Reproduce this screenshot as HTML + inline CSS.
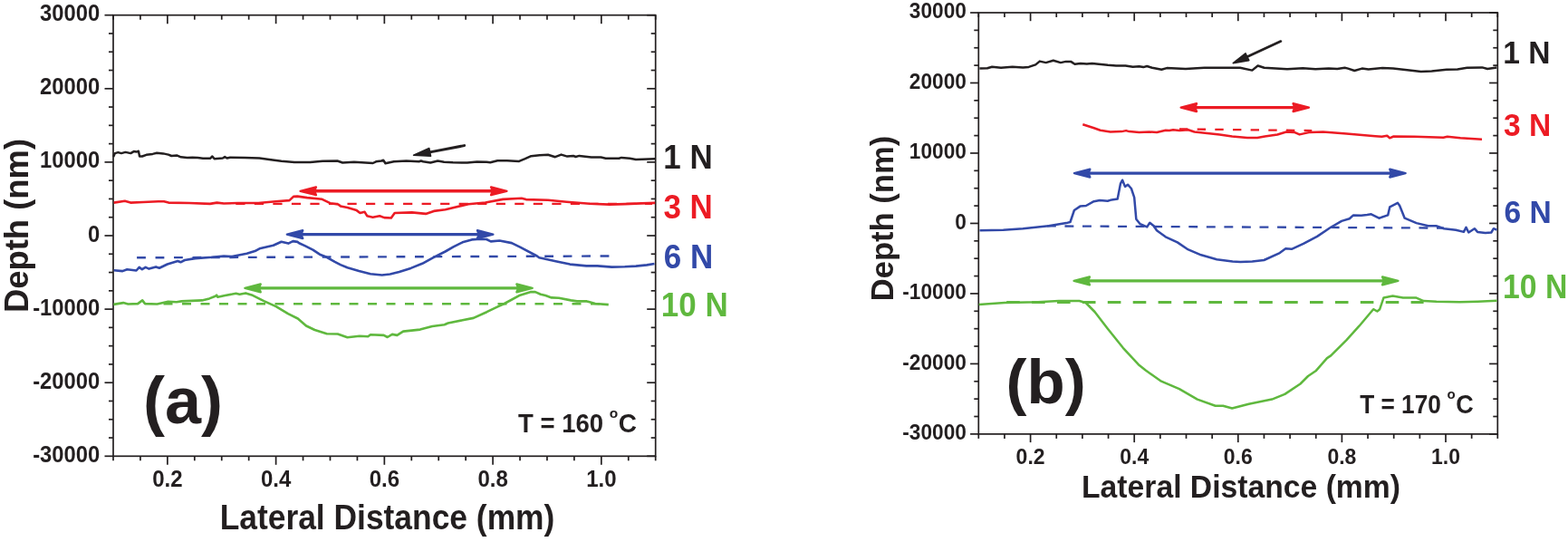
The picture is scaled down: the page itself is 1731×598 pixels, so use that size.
<!DOCTYPE html><html><head><meta charset="utf-8"><style>html,body{margin:0;padding:0;background:#fff;}svg{display:block;}text{font-family:'Liberation Sans', Arial, Helvetica, sans-serif;font-weight:bold;}</style></head><body>
<svg width="1731" height="598" viewBox="0 0 1731 598">
<rect width="1731" height="598" fill="#fff"/>
<line x1="115.50" y1="503.30" x2="125.00" y2="503.30" stroke="#231f20" stroke-width="1.7"/>
<line x1="723.70" y1="503.30" x2="714.20" y2="503.30" stroke="#231f20" stroke-width="1.7"/>
<line x1="120.00" y1="483.02" x2="125.00" y2="483.02" stroke="#231f20" stroke-width="1.7"/>
<line x1="723.70" y1="483.02" x2="718.70" y2="483.02" stroke="#231f20" stroke-width="1.7"/>
<line x1="120.00" y1="462.75" x2="125.00" y2="462.75" stroke="#231f20" stroke-width="1.7"/>
<line x1="723.70" y1="462.75" x2="718.70" y2="462.75" stroke="#231f20" stroke-width="1.7"/>
<line x1="120.00" y1="442.47" x2="125.00" y2="442.47" stroke="#231f20" stroke-width="1.7"/>
<line x1="723.70" y1="442.47" x2="718.70" y2="442.47" stroke="#231f20" stroke-width="1.7"/>
<line x1="115.50" y1="422.20" x2="125.00" y2="422.20" stroke="#231f20" stroke-width="1.7"/>
<line x1="723.70" y1="422.20" x2="714.20" y2="422.20" stroke="#231f20" stroke-width="1.7"/>
<line x1="120.00" y1="401.93" x2="125.00" y2="401.93" stroke="#231f20" stroke-width="1.7"/>
<line x1="723.70" y1="401.93" x2="718.70" y2="401.93" stroke="#231f20" stroke-width="1.7"/>
<line x1="120.00" y1="381.65" x2="125.00" y2="381.65" stroke="#231f20" stroke-width="1.7"/>
<line x1="723.70" y1="381.65" x2="718.70" y2="381.65" stroke="#231f20" stroke-width="1.7"/>
<line x1="120.00" y1="361.38" x2="125.00" y2="361.38" stroke="#231f20" stroke-width="1.7"/>
<line x1="723.70" y1="361.38" x2="718.70" y2="361.38" stroke="#231f20" stroke-width="1.7"/>
<line x1="115.50" y1="341.10" x2="125.00" y2="341.10" stroke="#231f20" stroke-width="1.7"/>
<line x1="723.70" y1="341.10" x2="714.20" y2="341.10" stroke="#231f20" stroke-width="1.7"/>
<line x1="120.00" y1="320.82" x2="125.00" y2="320.82" stroke="#231f20" stroke-width="1.7"/>
<line x1="723.70" y1="320.82" x2="718.70" y2="320.82" stroke="#231f20" stroke-width="1.7"/>
<line x1="120.00" y1="300.55" x2="125.00" y2="300.55" stroke="#231f20" stroke-width="1.7"/>
<line x1="723.70" y1="300.55" x2="718.70" y2="300.55" stroke="#231f20" stroke-width="1.7"/>
<line x1="120.00" y1="280.27" x2="125.00" y2="280.27" stroke="#231f20" stroke-width="1.7"/>
<line x1="723.70" y1="280.27" x2="718.70" y2="280.27" stroke="#231f20" stroke-width="1.7"/>
<line x1="115.50" y1="260.00" x2="125.00" y2="260.00" stroke="#231f20" stroke-width="1.7"/>
<line x1="723.70" y1="260.00" x2="714.20" y2="260.00" stroke="#231f20" stroke-width="1.7"/>
<line x1="120.00" y1="239.72" x2="125.00" y2="239.72" stroke="#231f20" stroke-width="1.7"/>
<line x1="723.70" y1="239.72" x2="718.70" y2="239.72" stroke="#231f20" stroke-width="1.7"/>
<line x1="120.00" y1="219.45" x2="125.00" y2="219.45" stroke="#231f20" stroke-width="1.7"/>
<line x1="723.70" y1="219.45" x2="718.70" y2="219.45" stroke="#231f20" stroke-width="1.7"/>
<line x1="120.00" y1="199.18" x2="125.00" y2="199.18" stroke="#231f20" stroke-width="1.7"/>
<line x1="723.70" y1="199.18" x2="718.70" y2="199.18" stroke="#231f20" stroke-width="1.7"/>
<line x1="115.50" y1="178.90" x2="125.00" y2="178.90" stroke="#231f20" stroke-width="1.7"/>
<line x1="723.70" y1="178.90" x2="714.20" y2="178.90" stroke="#231f20" stroke-width="1.7"/>
<line x1="120.00" y1="158.62" x2="125.00" y2="158.62" stroke="#231f20" stroke-width="1.7"/>
<line x1="723.70" y1="158.62" x2="718.70" y2="158.62" stroke="#231f20" stroke-width="1.7"/>
<line x1="120.00" y1="138.35" x2="125.00" y2="138.35" stroke="#231f20" stroke-width="1.7"/>
<line x1="723.70" y1="138.35" x2="718.70" y2="138.35" stroke="#231f20" stroke-width="1.7"/>
<line x1="120.00" y1="118.07" x2="125.00" y2="118.07" stroke="#231f20" stroke-width="1.7"/>
<line x1="723.70" y1="118.07" x2="718.70" y2="118.07" stroke="#231f20" stroke-width="1.7"/>
<line x1="115.50" y1="97.80" x2="125.00" y2="97.80" stroke="#231f20" stroke-width="1.7"/>
<line x1="723.70" y1="97.80" x2="714.20" y2="97.80" stroke="#231f20" stroke-width="1.7"/>
<line x1="120.00" y1="77.53" x2="125.00" y2="77.53" stroke="#231f20" stroke-width="1.7"/>
<line x1="723.70" y1="77.53" x2="718.70" y2="77.53" stroke="#231f20" stroke-width="1.7"/>
<line x1="120.00" y1="57.25" x2="125.00" y2="57.25" stroke="#231f20" stroke-width="1.7"/>
<line x1="723.70" y1="57.25" x2="718.70" y2="57.25" stroke="#231f20" stroke-width="1.7"/>
<line x1="120.00" y1="36.97" x2="125.00" y2="36.97" stroke="#231f20" stroke-width="1.7"/>
<line x1="723.70" y1="36.97" x2="718.70" y2="36.97" stroke="#231f20" stroke-width="1.7"/>
<line x1="115.50" y1="16.70" x2="125.00" y2="16.70" stroke="#231f20" stroke-width="1.7"/>
<line x1="723.70" y1="16.70" x2="714.20" y2="16.70" stroke="#231f20" stroke-width="1.7"/>
<line x1="125.00" y1="503.30" x2="125.00" y2="508.30" stroke="#231f20" stroke-width="1.7"/>
<line x1="125.00" y1="16.70" x2="125.00" y2="21.70" stroke="#231f20" stroke-width="1.7"/>
<line x1="154.94" y1="503.30" x2="154.94" y2="508.30" stroke="#231f20" stroke-width="1.7"/>
<line x1="154.94" y1="16.70" x2="154.94" y2="21.70" stroke="#231f20" stroke-width="1.7"/>
<line x1="184.87" y1="503.30" x2="184.87" y2="512.80" stroke="#231f20" stroke-width="1.7"/>
<line x1="184.87" y1="16.70" x2="184.87" y2="26.20" stroke="#231f20" stroke-width="1.7"/>
<line x1="214.81" y1="503.30" x2="214.81" y2="508.30" stroke="#231f20" stroke-width="1.7"/>
<line x1="214.81" y1="16.70" x2="214.81" y2="21.70" stroke="#231f20" stroke-width="1.7"/>
<line x1="244.74" y1="503.30" x2="244.74" y2="508.30" stroke="#231f20" stroke-width="1.7"/>
<line x1="244.74" y1="16.70" x2="244.74" y2="21.70" stroke="#231f20" stroke-width="1.7"/>
<line x1="274.67" y1="503.30" x2="274.67" y2="508.30" stroke="#231f20" stroke-width="1.7"/>
<line x1="274.67" y1="16.70" x2="274.67" y2="21.70" stroke="#231f20" stroke-width="1.7"/>
<line x1="304.61" y1="503.30" x2="304.61" y2="512.80" stroke="#231f20" stroke-width="1.7"/>
<line x1="304.61" y1="16.70" x2="304.61" y2="26.20" stroke="#231f20" stroke-width="1.7"/>
<line x1="334.55" y1="503.30" x2="334.55" y2="508.30" stroke="#231f20" stroke-width="1.7"/>
<line x1="334.55" y1="16.70" x2="334.55" y2="21.70" stroke="#231f20" stroke-width="1.7"/>
<line x1="364.48" y1="503.30" x2="364.48" y2="508.30" stroke="#231f20" stroke-width="1.7"/>
<line x1="364.48" y1="16.70" x2="364.48" y2="21.70" stroke="#231f20" stroke-width="1.7"/>
<line x1="394.42" y1="503.30" x2="394.42" y2="508.30" stroke="#231f20" stroke-width="1.7"/>
<line x1="394.42" y1="16.70" x2="394.42" y2="21.70" stroke="#231f20" stroke-width="1.7"/>
<line x1="424.35" y1="503.30" x2="424.35" y2="512.80" stroke="#231f20" stroke-width="1.7"/>
<line x1="424.35" y1="16.70" x2="424.35" y2="26.20" stroke="#231f20" stroke-width="1.7"/>
<line x1="454.29" y1="503.30" x2="454.29" y2="508.30" stroke="#231f20" stroke-width="1.7"/>
<line x1="454.29" y1="16.70" x2="454.29" y2="21.70" stroke="#231f20" stroke-width="1.7"/>
<line x1="484.22" y1="503.30" x2="484.22" y2="508.30" stroke="#231f20" stroke-width="1.7"/>
<line x1="484.22" y1="16.70" x2="484.22" y2="21.70" stroke="#231f20" stroke-width="1.7"/>
<line x1="514.15" y1="503.30" x2="514.15" y2="508.30" stroke="#231f20" stroke-width="1.7"/>
<line x1="514.15" y1="16.70" x2="514.15" y2="21.70" stroke="#231f20" stroke-width="1.7"/>
<line x1="544.09" y1="503.30" x2="544.09" y2="512.80" stroke="#231f20" stroke-width="1.7"/>
<line x1="544.09" y1="16.70" x2="544.09" y2="26.20" stroke="#231f20" stroke-width="1.7"/>
<line x1="574.03" y1="503.30" x2="574.03" y2="508.30" stroke="#231f20" stroke-width="1.7"/>
<line x1="574.03" y1="16.70" x2="574.03" y2="21.70" stroke="#231f20" stroke-width="1.7"/>
<line x1="603.96" y1="503.30" x2="603.96" y2="508.30" stroke="#231f20" stroke-width="1.7"/>
<line x1="603.96" y1="16.70" x2="603.96" y2="21.70" stroke="#231f20" stroke-width="1.7"/>
<line x1="633.90" y1="503.30" x2="633.90" y2="508.30" stroke="#231f20" stroke-width="1.7"/>
<line x1="633.90" y1="16.70" x2="633.90" y2="21.70" stroke="#231f20" stroke-width="1.7"/>
<line x1="663.83" y1="503.30" x2="663.83" y2="512.80" stroke="#231f20" stroke-width="1.7"/>
<line x1="663.83" y1="16.70" x2="663.83" y2="26.20" stroke="#231f20" stroke-width="1.7"/>
<line x1="693.77" y1="503.30" x2="693.77" y2="508.30" stroke="#231f20" stroke-width="1.7"/>
<line x1="693.77" y1="16.70" x2="693.77" y2="21.70" stroke="#231f20" stroke-width="1.7"/>
<line x1="723.70" y1="503.30" x2="723.70" y2="508.30" stroke="#231f20" stroke-width="1.7"/>
<line x1="723.70" y1="16.70" x2="723.70" y2="21.70" stroke="#231f20" stroke-width="1.7"/>
<rect x="125.00" y="16.70" width="598.70" height="486.60" fill="none" stroke="#231f20" stroke-width="1.7"/>
<text transform="translate(110.30,509.85) scale(1,1.067)" x="0" y="0" font-size="23.8" fill="#231f20" text-anchor="end">-30000</text>
<text transform="translate(110.30,428.75) scale(1,1.067)" x="0" y="0" font-size="23.8" fill="#231f20" text-anchor="end">-20000</text>
<text transform="translate(110.30,347.65) scale(1,1.067)" x="0" y="0" font-size="23.8" fill="#231f20" text-anchor="end">-10000</text>
<text transform="translate(110.30,266.55) scale(1,1.067)" x="0" y="0" font-size="23.8" fill="#231f20" text-anchor="end">0</text>
<text transform="translate(110.30,185.45) scale(1,1.067)" x="0" y="0" font-size="23.8" fill="#231f20" text-anchor="end">10000</text>
<text transform="translate(110.30,104.35) scale(1,1.067)" x="0" y="0" font-size="23.8" fill="#231f20" text-anchor="end">20000</text>
<text transform="translate(110.30,23.25) scale(1,1.067)" x="0" y="0" font-size="23.8" fill="#231f20" text-anchor="end">30000</text>
<text transform="translate(184.87,536.80) scale(1,1.058)" x="0" y="0" font-size="24" fill="#231f20" text-anchor="middle">0.2</text>
<text transform="translate(304.61,536.80) scale(1,1.058)" x="0" y="0" font-size="24" fill="#231f20" text-anchor="middle">0.4</text>
<text transform="translate(424.35,536.80) scale(1,1.058)" x="0" y="0" font-size="24" fill="#231f20" text-anchor="middle">0.6</text>
<text transform="translate(544.09,536.80) scale(1,1.058)" x="0" y="0" font-size="24" fill="#231f20" text-anchor="middle">0.8</text>
<text transform="translate(663.83,536.80) scale(1,1.058)" x="0" y="0" font-size="24" fill="#231f20" text-anchor="middle">1.0</text>
<polyline points="125.2,173.1 126.9,169.1 130.4,168.1 133.9,169.1 138.5,167.9 144.3,169.1 147.7,167.1 150.6,167.6 152.9,166.8 154.1,172.5 157.0,172.5 161.6,170.8 168.5,169.9 173.1,168.8 180.1,169.4 185.9,170.6 189.3,172.0 195.1,171.4 199.7,173.3 206.7,174.0 212.4,173.7 218.2,174.0 224.0,174.8 232.0,174.8 234.4,172.5 236.7,175.2 245.9,174.5 248.2,173.1 250.6,174.5 254.0,173.7 270.2,173.9 286.4,174.5 299.1,176.3 310.6,177.7 325.0,178.9 342.4,178.9 356.2,177.7 372.4,177.5 378.2,179.5 390.9,178.7 411.7,180.0 415.1,178.3 420.9,177.5 423.2,176.8 425.5,180.3 434.8,178.3 448.6,177.5 462.5,178.3 464.8,177.5 467.1,178.3 475.2,179.5 483.3,177.5 490.2,178.7 500.0,179.2 515.9,179.6 526.6,178.5 537.2,178.8 541.2,179.2 549.2,177.2 559.8,177.2 573.1,177.9 579.7,175.2 586.4,172.2 595.7,171.2 605.0,170.8 612.9,173.2 619.6,170.6 626.2,172.6 632.9,171.9 635.5,173.0 639.5,171.9 652.8,173.5 663.4,173.5 668.7,174.8 683.4,174.8 686.0,173.9 695.3,174.8 702.0,176.1 723.2,175.2" fill="none" stroke="#231f20" stroke-width="2.5" stroke-linejoin="round" stroke-linecap="butt"/>
<line x1="512.60" y1="160.60" x2="472.00" y2="168.40" stroke="#231f20" stroke-width="3.0" stroke-linecap="round"/>
<path d="M456.6,171.3 L473.8,163.6 L475.5,172.2 Z" fill="#231f20" stroke="#231f20" stroke-width="1.6" stroke-linejoin="round"/>
<polyline points="125.7,223.6 137.8,221.7 144.1,223.6 158.1,223.0 174.7,222.3 181.0,222.3 186.1,223.6 209.0,224.0 231.8,224.9 239.5,223.6 247.1,224.5 262.3,224.0 285.2,224.0 304.3,222.3 319.5,221.1 324.0,216.9 328.4,216.6 339.1,218.1 355.6,219.8 364.5,224.2 373.4,225.5 375.9,227.4 383.5,229.1 393.7,232.1 397.5,235.0 402.6,233.8 405.2,238.2 411.5,239.7 419.1,238.2 424.2,240.1 431.8,240.5 435.7,235.0 454.7,234.4 470.0,235.9 478.9,232.9 491.6,231.2 517.0,225.2 535.8,223.5 555.2,219.9 575.8,218.7 580.7,220.1 604.9,220.7 625.5,222.7 651.0,224.7 672.9,225.6 689.8,225.1 708.0,224.4 723.2,223.9" fill="none" stroke="#ec1b24" stroke-width="2.6" stroke-linejoin="round" stroke-linecap="butt"/>
<line x1="260.30" y1="224.90" x2="720.00" y2="224.90" stroke="#ec1b24" stroke-width="2.4" stroke-dasharray="10.2 10.33"/>
<line x1="338.40" y1="210.80" x2="552.60" y2="210.80" stroke="#ec1b24" stroke-width="3.4"/>
<path d="M331.6,210.8 L348.9,206.4 L347.1,210.8 L348.9,215.2 Z" fill="#ec1b24" stroke="#ec1b24" stroke-width="2.4" stroke-linejoin="round"/>
<path d="M559.4,210.8 L542.1,206.4 L543.9,210.8 L542.1,215.2 Z" fill="#ec1b24" stroke="#ec1b24" stroke-width="2.4" stroke-linejoin="round"/>
<polyline points="125.7,298.2 135.3,299.1 140.3,297.2 150.5,298.5 153.7,294.9 156.9,297.2 160.7,294.9 164.5,296.6 172.1,294.4 175.9,295.7 184.8,291.5 196.3,288.0 199.4,289.3 203.9,287.0 215.3,285.1 234.4,283.8 247.1,282.6 256.0,283.0 272.5,279.7 281.4,277.1 286.5,274.3 301.7,270.8 310.6,266.7 318.3,268.6 323.4,266.1 328.4,266.9 330.2,268.2 336.5,271.1 345.4,275.6 353.0,280.7 360.7,283.8 369.6,288.9 375.9,292.1 383.5,295.3 396.3,299.1 409.0,302.3 421.7,303.5 430.6,302.5 440.7,300.0 453.5,295.9 466.2,290.8 478.9,283.8 491.6,277.5 500.5,272.4 510.6,267.3 520.8,264.4 529.7,263.8 537.0,264.0 541.8,266.4 551.5,265.5 564.9,268.1 574.6,272.8 592.8,282.5 595.2,284.3 614.6,288.5 629.2,291.6 647.4,293.4 659.5,293.4 675.3,294.6 689.8,294.3 702.0,293.6 714.1,292.4 722.5,291.0" fill="none" stroke="#3249a8" stroke-width="2.6" stroke-linejoin="round" stroke-linecap="butt"/>
<line x1="151.10" y1="284.30" x2="673.00" y2="282.50" stroke="#3249a8" stroke-width="2.4" stroke-dasharray="9.8 10.66"/>
<line x1="323.70" y1="258.60" x2="537.50" y2="258.60" stroke="#3249a8" stroke-width="3.3"/>
<path d="M316.9,258.6 L334.2,254.2 L332.4,258.6 L334.2,263.0 Z" fill="#3249a8" stroke="#3249a8" stroke-width="2.4" stroke-linejoin="round"/>
<path d="M544.3,258.6 L527.0,254.2 L528.8,258.6 L527.0,263.0 Z" fill="#3249a8" stroke="#3249a8" stroke-width="2.4" stroke-linejoin="round"/>
<polyline points="125.4,335.9 136.1,334.1 141.4,335.5 152.1,335.1 157.2,331.4 160.1,335.1 173.5,335.5 185.6,332.8 194.9,333.2 200.3,332.4 223.0,331.4 231.1,329.4 237.8,326.8 239.1,325.7 240.4,327.8 248.5,326.1 260.5,323.8 264.5,324.8 271.2,323.4 277.9,325.4 291.3,332.1 304.7,338.1 318.0,346.2 328.8,351.5 338.0,359.5 347.4,364.0 360.8,368.2 372.8,368.5 383.5,372.3 396.9,370.7 406.3,371.2 409.0,369.3 423.7,369.9 427.7,372.0 433.0,368.9 438.4,369.9 445.1,365.6 463.8,363.6 477.2,360.0 490.6,358.2 494.6,356.5 510.6,353.3 522.7,350.9 537.4,344.2 550.0,338.1 556.8,335.0 574.1,325.7 586.2,322.1 590.9,322.1 596.9,324.7 602.2,326.1 608.9,328.4 617.0,328.8 630.3,331.4 637.0,332.4 647.7,332.4 649.1,332.8 657.1,335.0 671.8,336.1" fill="none" stroke="#5fb83e" stroke-width="2.6" stroke-linejoin="round" stroke-linecap="butt"/>
<line x1="180.50" y1="335.20" x2="672.00" y2="335.20" stroke="#5fb83e" stroke-width="2.4" stroke-dasharray="10 10.5"/>
<line x1="277.20" y1="317.90" x2="580.90" y2="317.90" stroke="#5fb83e" stroke-width="3.4"/>
<path d="M270.4,317.9 L287.7,313.5 L285.9,317.9 L287.7,322.3 Z" fill="#5fb83e" stroke="#5fb83e" stroke-width="2.4" stroke-linejoin="round"/>
<path d="M587.7,317.9 L570.4,313.5 L572.2,317.9 L570.4,322.3 Z" fill="#5fb83e" stroke="#5fb83e" stroke-width="2.4" stroke-linejoin="round"/>
<text transform="translate(732.30,185.50) scale(1,1.07)" x="0" y="0" font-size="35" fill="#231f20" text-anchor="start">1 N</text>
<text transform="translate(732.40,241.20) scale(1,1.07)" x="0" y="0" font-size="35" fill="#ec1b24" text-anchor="start">3 N</text>
<text transform="translate(732.70,296.00) scale(1,1.07)" x="0" y="0" font-size="35" fill="#3249a8" text-anchor="start">6 N</text>
<text transform="translate(729.80,348.60) scale(1,1.07)" x="0" y="0" font-size="35" fill="#5fb83e" text-anchor="start">10 N</text>
<text x="158.00" y="466.50" font-size="72" fill="#231f20" text-anchor="start">(a)</text>
<text transform="translate(572.00,477.30) scale(1,1.06)" x="0" y="0" font-size="28" fill="#231f20" text-anchor="start" textLength="94.1" lengthAdjust="spacingAndGlyphs">T = 160</text>
<text x="672.80" y="461.30" font-size="15.5" fill="#231f20" text-anchor="start">o</text>
<text transform="translate(682.80,477.30) scale(1,1.06)" x="0" y="0" font-size="28" fill="#231f20" text-anchor="start">C</text>
<text transform="translate(427.50,584.30) scale(1,1.07)" x="0" y="0" font-size="35.4" fill="#231f20" text-anchor="middle">Lateral Distance (mm)</text>
<text transform="translate(30.6,249.0) rotate(-90)" x="0" y="0" font-size="36.4" fill="#231f20" text-anchor="middle">Depth (nm)</text>
<line x1="1071.10" y1="478.89" x2="1080.30" y2="478.89" stroke="#231f20" stroke-width="1.7"/>
<line x1="1653.30" y1="478.89" x2="1644.10" y2="478.89" stroke="#231f20" stroke-width="1.7"/>
<line x1="1075.30" y1="459.52" x2="1080.30" y2="459.52" stroke="#231f20" stroke-width="1.7"/>
<line x1="1653.30" y1="459.52" x2="1648.30" y2="459.52" stroke="#231f20" stroke-width="1.7"/>
<line x1="1075.30" y1="440.15" x2="1080.30" y2="440.15" stroke="#231f20" stroke-width="1.7"/>
<line x1="1653.30" y1="440.15" x2="1648.30" y2="440.15" stroke="#231f20" stroke-width="1.7"/>
<line x1="1075.30" y1="420.78" x2="1080.30" y2="420.78" stroke="#231f20" stroke-width="1.7"/>
<line x1="1653.30" y1="420.78" x2="1648.30" y2="420.78" stroke="#231f20" stroke-width="1.7"/>
<line x1="1071.10" y1="401.41" x2="1080.30" y2="401.41" stroke="#231f20" stroke-width="1.7"/>
<line x1="1653.30" y1="401.41" x2="1644.10" y2="401.41" stroke="#231f20" stroke-width="1.7"/>
<line x1="1075.30" y1="382.04" x2="1080.30" y2="382.04" stroke="#231f20" stroke-width="1.7"/>
<line x1="1653.30" y1="382.04" x2="1648.30" y2="382.04" stroke="#231f20" stroke-width="1.7"/>
<line x1="1075.30" y1="362.67" x2="1080.30" y2="362.67" stroke="#231f20" stroke-width="1.7"/>
<line x1="1653.30" y1="362.67" x2="1648.30" y2="362.67" stroke="#231f20" stroke-width="1.7"/>
<line x1="1075.30" y1="343.30" x2="1080.30" y2="343.30" stroke="#231f20" stroke-width="1.7"/>
<line x1="1653.30" y1="343.30" x2="1648.30" y2="343.30" stroke="#231f20" stroke-width="1.7"/>
<line x1="1071.10" y1="323.93" x2="1080.30" y2="323.93" stroke="#231f20" stroke-width="1.7"/>
<line x1="1653.30" y1="323.93" x2="1644.10" y2="323.93" stroke="#231f20" stroke-width="1.7"/>
<line x1="1075.30" y1="304.56" x2="1080.30" y2="304.56" stroke="#231f20" stroke-width="1.7"/>
<line x1="1653.30" y1="304.56" x2="1648.30" y2="304.56" stroke="#231f20" stroke-width="1.7"/>
<line x1="1075.30" y1="285.19" x2="1080.30" y2="285.19" stroke="#231f20" stroke-width="1.7"/>
<line x1="1653.30" y1="285.19" x2="1648.30" y2="285.19" stroke="#231f20" stroke-width="1.7"/>
<line x1="1075.30" y1="265.82" x2="1080.30" y2="265.82" stroke="#231f20" stroke-width="1.7"/>
<line x1="1653.30" y1="265.82" x2="1648.30" y2="265.82" stroke="#231f20" stroke-width="1.7"/>
<line x1="1071.10" y1="246.45" x2="1080.30" y2="246.45" stroke="#231f20" stroke-width="1.7"/>
<line x1="1653.30" y1="246.45" x2="1644.10" y2="246.45" stroke="#231f20" stroke-width="1.7"/>
<line x1="1075.30" y1="227.08" x2="1080.30" y2="227.08" stroke="#231f20" stroke-width="1.7"/>
<line x1="1653.30" y1="227.08" x2="1648.30" y2="227.08" stroke="#231f20" stroke-width="1.7"/>
<line x1="1075.30" y1="207.71" x2="1080.30" y2="207.71" stroke="#231f20" stroke-width="1.7"/>
<line x1="1653.30" y1="207.71" x2="1648.30" y2="207.71" stroke="#231f20" stroke-width="1.7"/>
<line x1="1075.30" y1="188.34" x2="1080.30" y2="188.34" stroke="#231f20" stroke-width="1.7"/>
<line x1="1653.30" y1="188.34" x2="1648.30" y2="188.34" stroke="#231f20" stroke-width="1.7"/>
<line x1="1071.10" y1="168.97" x2="1080.30" y2="168.97" stroke="#231f20" stroke-width="1.7"/>
<line x1="1653.30" y1="168.97" x2="1644.10" y2="168.97" stroke="#231f20" stroke-width="1.7"/>
<line x1="1075.30" y1="149.60" x2="1080.30" y2="149.60" stroke="#231f20" stroke-width="1.7"/>
<line x1="1653.30" y1="149.60" x2="1648.30" y2="149.60" stroke="#231f20" stroke-width="1.7"/>
<line x1="1075.30" y1="130.23" x2="1080.30" y2="130.23" stroke="#231f20" stroke-width="1.7"/>
<line x1="1653.30" y1="130.23" x2="1648.30" y2="130.23" stroke="#231f20" stroke-width="1.7"/>
<line x1="1075.30" y1="110.86" x2="1080.30" y2="110.86" stroke="#231f20" stroke-width="1.7"/>
<line x1="1653.30" y1="110.86" x2="1648.30" y2="110.86" stroke="#231f20" stroke-width="1.7"/>
<line x1="1071.10" y1="91.49" x2="1080.30" y2="91.49" stroke="#231f20" stroke-width="1.7"/>
<line x1="1653.30" y1="91.49" x2="1644.10" y2="91.49" stroke="#231f20" stroke-width="1.7"/>
<line x1="1075.30" y1="72.12" x2="1080.30" y2="72.12" stroke="#231f20" stroke-width="1.7"/>
<line x1="1653.30" y1="72.12" x2="1648.30" y2="72.12" stroke="#231f20" stroke-width="1.7"/>
<line x1="1075.30" y1="52.75" x2="1080.30" y2="52.75" stroke="#231f20" stroke-width="1.7"/>
<line x1="1653.30" y1="52.75" x2="1648.30" y2="52.75" stroke="#231f20" stroke-width="1.7"/>
<line x1="1075.30" y1="33.38" x2="1080.30" y2="33.38" stroke="#231f20" stroke-width="1.7"/>
<line x1="1653.30" y1="33.38" x2="1648.30" y2="33.38" stroke="#231f20" stroke-width="1.7"/>
<line x1="1071.10" y1="14.01" x2="1080.30" y2="14.01" stroke="#231f20" stroke-width="1.7"/>
<line x1="1653.30" y1="14.01" x2="1644.10" y2="14.01" stroke="#231f20" stroke-width="1.7"/>
<line x1="1080.30" y1="478.90" x2="1080.30" y2="483.90" stroke="#231f20" stroke-width="1.7"/>
<line x1="1080.30" y1="14.00" x2="1080.30" y2="19.00" stroke="#231f20" stroke-width="1.7"/>
<line x1="1108.95" y1="478.90" x2="1108.95" y2="483.90" stroke="#231f20" stroke-width="1.7"/>
<line x1="1108.95" y1="14.00" x2="1108.95" y2="19.00" stroke="#231f20" stroke-width="1.7"/>
<line x1="1137.60" y1="478.90" x2="1137.60" y2="488.10" stroke="#231f20" stroke-width="1.7"/>
<line x1="1137.60" y1="14.00" x2="1137.60" y2="23.20" stroke="#231f20" stroke-width="1.7"/>
<line x1="1166.25" y1="478.90" x2="1166.25" y2="483.90" stroke="#231f20" stroke-width="1.7"/>
<line x1="1166.25" y1="14.00" x2="1166.25" y2="19.00" stroke="#231f20" stroke-width="1.7"/>
<line x1="1194.90" y1="478.90" x2="1194.90" y2="483.90" stroke="#231f20" stroke-width="1.7"/>
<line x1="1194.90" y1="14.00" x2="1194.90" y2="19.00" stroke="#231f20" stroke-width="1.7"/>
<line x1="1223.55" y1="478.90" x2="1223.55" y2="483.90" stroke="#231f20" stroke-width="1.7"/>
<line x1="1223.55" y1="14.00" x2="1223.55" y2="19.00" stroke="#231f20" stroke-width="1.7"/>
<line x1="1252.20" y1="478.90" x2="1252.20" y2="488.10" stroke="#231f20" stroke-width="1.7"/>
<line x1="1252.20" y1="14.00" x2="1252.20" y2="23.20" stroke="#231f20" stroke-width="1.7"/>
<line x1="1280.85" y1="478.90" x2="1280.85" y2="483.90" stroke="#231f20" stroke-width="1.7"/>
<line x1="1280.85" y1="14.00" x2="1280.85" y2="19.00" stroke="#231f20" stroke-width="1.7"/>
<line x1="1309.50" y1="478.90" x2="1309.50" y2="483.90" stroke="#231f20" stroke-width="1.7"/>
<line x1="1309.50" y1="14.00" x2="1309.50" y2="19.00" stroke="#231f20" stroke-width="1.7"/>
<line x1="1338.15" y1="478.90" x2="1338.15" y2="483.90" stroke="#231f20" stroke-width="1.7"/>
<line x1="1338.15" y1="14.00" x2="1338.15" y2="19.00" stroke="#231f20" stroke-width="1.7"/>
<line x1="1366.80" y1="478.90" x2="1366.80" y2="488.10" stroke="#231f20" stroke-width="1.7"/>
<line x1="1366.80" y1="14.00" x2="1366.80" y2="23.20" stroke="#231f20" stroke-width="1.7"/>
<line x1="1395.45" y1="478.90" x2="1395.45" y2="483.90" stroke="#231f20" stroke-width="1.7"/>
<line x1="1395.45" y1="14.00" x2="1395.45" y2="19.00" stroke="#231f20" stroke-width="1.7"/>
<line x1="1424.10" y1="478.90" x2="1424.10" y2="483.90" stroke="#231f20" stroke-width="1.7"/>
<line x1="1424.10" y1="14.00" x2="1424.10" y2="19.00" stroke="#231f20" stroke-width="1.7"/>
<line x1="1452.75" y1="478.90" x2="1452.75" y2="483.90" stroke="#231f20" stroke-width="1.7"/>
<line x1="1452.75" y1="14.00" x2="1452.75" y2="19.00" stroke="#231f20" stroke-width="1.7"/>
<line x1="1481.40" y1="478.90" x2="1481.40" y2="488.10" stroke="#231f20" stroke-width="1.7"/>
<line x1="1481.40" y1="14.00" x2="1481.40" y2="23.20" stroke="#231f20" stroke-width="1.7"/>
<line x1="1510.05" y1="478.90" x2="1510.05" y2="483.90" stroke="#231f20" stroke-width="1.7"/>
<line x1="1510.05" y1="14.00" x2="1510.05" y2="19.00" stroke="#231f20" stroke-width="1.7"/>
<line x1="1538.70" y1="478.90" x2="1538.70" y2="483.90" stroke="#231f20" stroke-width="1.7"/>
<line x1="1538.70" y1="14.00" x2="1538.70" y2="19.00" stroke="#231f20" stroke-width="1.7"/>
<line x1="1567.35" y1="478.90" x2="1567.35" y2="483.90" stroke="#231f20" stroke-width="1.7"/>
<line x1="1567.35" y1="14.00" x2="1567.35" y2="19.00" stroke="#231f20" stroke-width="1.7"/>
<line x1="1596.00" y1="478.90" x2="1596.00" y2="488.10" stroke="#231f20" stroke-width="1.7"/>
<line x1="1596.00" y1="14.00" x2="1596.00" y2="23.20" stroke="#231f20" stroke-width="1.7"/>
<line x1="1624.65" y1="478.90" x2="1624.65" y2="483.90" stroke="#231f20" stroke-width="1.7"/>
<line x1="1624.65" y1="14.00" x2="1624.65" y2="19.00" stroke="#231f20" stroke-width="1.7"/>
<line x1="1653.30" y1="478.90" x2="1653.30" y2="483.90" stroke="#231f20" stroke-width="1.7"/>
<line x1="1653.30" y1="14.00" x2="1653.30" y2="19.00" stroke="#231f20" stroke-width="1.7"/>
<rect x="1080.30" y="14.00" width="573.00" height="464.90" fill="none" stroke="#231f20" stroke-width="1.7"/>
<text transform="translate(1066.90,485.29) scale(1,1.075)" x="0" y="0" font-size="22.7" fill="#231f20" text-anchor="end">-30000</text>
<text transform="translate(1066.90,407.81) scale(1,1.075)" x="0" y="0" font-size="22.7" fill="#231f20" text-anchor="end">-20000</text>
<text transform="translate(1066.90,330.33) scale(1,1.075)" x="0" y="0" font-size="22.7" fill="#231f20" text-anchor="end">-10000</text>
<text transform="translate(1066.90,252.85) scale(1,1.075)" x="0" y="0" font-size="22.7" fill="#231f20" text-anchor="end">0</text>
<text transform="translate(1066.90,175.37) scale(1,1.075)" x="0" y="0" font-size="22.7" fill="#231f20" text-anchor="end">10000</text>
<text transform="translate(1066.90,97.89) scale(1,1.075)" x="0" y="0" font-size="22.7" fill="#231f20" text-anchor="end">20000</text>
<text transform="translate(1066.90,20.41) scale(1,1.075)" x="0" y="0" font-size="22.7" fill="#231f20" text-anchor="end">30000</text>
<text transform="translate(1137.60,512.00) scale(1,1.07)" x="0" y="0" font-size="23" fill="#231f20" text-anchor="middle">0.2</text>
<text transform="translate(1252.20,512.00) scale(1,1.07)" x="0" y="0" font-size="23" fill="#231f20" text-anchor="middle">0.4</text>
<text transform="translate(1366.80,512.00) scale(1,1.07)" x="0" y="0" font-size="23" fill="#231f20" text-anchor="middle">0.6</text>
<text transform="translate(1481.40,512.00) scale(1,1.07)" x="0" y="0" font-size="23" fill="#231f20" text-anchor="middle">0.8</text>
<text transform="translate(1596.00,512.00) scale(1,1.07)" x="0" y="0" font-size="23" fill="#231f20" text-anchor="middle">1.0</text>
<polyline points="1081.4,75.6 1090.0,75.3 1095.2,73.7 1105.0,74.8 1117.7,73.7 1129.3,74.5 1135.7,73.9 1143.2,71.4 1147.8,67.6 1154.7,69.1 1162.8,66.7 1170.9,69.1 1176.7,67.9 1182.5,68.1 1186.5,70.7 1192.9,69.9 1199.8,70.4 1205.6,69.9 1222.9,71.8 1232.1,72.5 1242.5,72.5 1250.6,73.7 1257.6,73.3 1262.2,74.1 1266.2,73.0 1271.9,74.8 1282.3,76.8 1288.1,75.1 1308.9,76.0 1329.7,74.8 1345.9,74.8 1369.0,74.8 1382.3,77.6 1388.6,72.5 1395.6,74.8 1421.0,76.2 1438.3,75.3 1452.2,76.2 1466.8,75.4 1476.3,76.0 1484.6,74.8 1488.2,75.6 1495.3,78.0 1503.6,75.6 1510.7,76.5 1526.1,75.0 1537.9,75.6 1555.7,77.4 1568.7,79.1 1580.5,78.6 1597.1,76.8 1609.0,76.4 1619.6,74.8 1636.2,74.4 1642.1,76.0 1652.3,74.4" fill="none" stroke="#231f20" stroke-width="2.5" stroke-linejoin="round" stroke-linecap="butt"/>
<line x1="1413.90" y1="45.60" x2="1375.00" y2="63.60" stroke="#231f20" stroke-width="2.8" stroke-linecap="round"/>
<path d="M1361.3,69.6 L1375,58.8 L1378.8,66.6 Z" fill="#231f20" stroke="#231f20" stroke-width="1.6" stroke-linejoin="round"/>
<polyline points="1195.3,137.2 1207.7,141.3 1214.7,143.7 1225.8,145.5 1238.2,145.1 1243.1,144.1 1246.6,145.1 1257.6,146.0 1268.7,145.5 1277.1,146.0 1286.8,143.7 1290.9,144.1 1295.1,143.3 1302.0,144.1 1311.7,143.3 1318.6,145.5 1332.5,146.9 1346.4,148.5 1360.2,150.6 1376.9,152.0 1388.0,152.0 1396.3,150.6 1410.2,148.5 1420.1,145.5 1428.8,145.9 1434.6,148.4 1446.1,145.9 1460.5,145.5 1486.5,147.4 1518.3,150.3 1525.5,150.8 1531.3,149.8 1534.2,152.3 1538.5,150.5 1561.6,150.8 1593.4,151.7 1597.8,150.8 1612.2,152.3 1636.0,153.7" fill="none" stroke="#ec1b24" stroke-width="2.5" stroke-linejoin="round" stroke-linecap="butt"/>
<line x1="1302.00" y1="142.40" x2="1448.30" y2="144.10" stroke="#ec1b24" stroke-width="2.3" stroke-dasharray="9.4 10.26"/>
<line x1="1310.50" y1="118.60" x2="1438.10" y2="118.60" stroke="#ec1b24" stroke-width="3.2"/>
<path d="M1303.7,118.6 L1321.0,114.2 L1319.2,118.6 L1321.0,123.0 Z" fill="#ec1b24" stroke="#ec1b24" stroke-width="2.4" stroke-linejoin="round"/>
<path d="M1444.9,118.6 L1427.6,114.2 L1429.4,118.6 L1427.6,123.0 Z" fill="#ec1b24" stroke="#ec1b24" stroke-width="2.4" stroke-linejoin="round"/>
<polyline points="1081.5,254.3 1107.6,253.7 1129.3,252.2 1157.6,249.3 1177.2,246.1 1181.5,245.0 1185.9,232.0 1192.4,227.6 1198.9,227.0 1207.6,222.2 1214.1,221.1 1222.8,221.7 1227.2,220.4 1233.7,219.6 1237.0,202.6 1239.1,198.7 1242.0,205.9 1245.0,203.7 1248.9,208.0 1252.2,217.8 1254.3,241.7 1258.7,247.2 1266.3,250.4 1269.3,245.7 1273.7,249.3 1277.0,254.3 1286.7,261.3 1299.8,267.4 1310.7,274.8 1325.9,281.3 1343.3,286.3 1360.7,288.5 1369.3,289.1 1382.4,288.5 1395.4,287.0 1412.8,279.1 1419.3,274.3 1425.9,274.8 1438.9,268.9 1454.1,260.9 1468.0,251.5 1481.1,243.9 1489.8,241.3 1494.1,237.4 1502.8,237.8 1509.3,237.0 1513.7,236.3 1522.4,240.7 1532.2,237.4 1534.3,228.3 1543.0,223.9 1545.2,227.0 1550.7,240.7 1563.7,246.1 1576.7,249.3 1585.4,249.3 1594.1,252.2 1607.2,253.7 1615.9,255.9 1618.5,250.9 1621.3,256.5 1627.8,252.2 1631.1,255.9 1639.8,257.0 1646.3,256.5 1648.9,252.2 1652.5,253.7" fill="none" stroke="#3249a8" stroke-width="2.5" stroke-linejoin="round" stroke-linecap="butt"/>
<line x1="1155.90" y1="249.40" x2="1594.00" y2="251.60" stroke="#3249a8" stroke-width="2.3" stroke-dasharray="9.9 9.65"/>
<line x1="1192.80" y1="191.10" x2="1544.80" y2="191.10" stroke="#3249a8" stroke-width="3.2"/>
<path d="M1186.0,191.1 L1203.3,186.7 L1201.5,191.1 L1203.3,195.5 Z" fill="#3249a8" stroke="#3249a8" stroke-width="2.4" stroke-linejoin="round"/>
<path d="M1551.6,191.1 L1534.3,186.7 L1536.1,191.1 L1534.3,195.5 Z" fill="#3249a8" stroke="#3249a8" stroke-width="2.4" stroke-linejoin="round"/>
<polyline points="1080.7,336.0 1109.1,334.0 1146.0,333.2 1168.8,332.0 1191.5,332.0 1198.6,334.0 1208.5,344.0 1222.7,362.4 1239.8,383.8 1256.8,402.2 1265.0,408.8 1282.0,420.7 1301.9,429.2 1321.8,440.6 1341.7,447.7 1350.2,447.7 1360.2,450.5 1378.6,445.7 1404.2,440.6 1418.4,434.9 1435.5,423.5 1444.0,415.0 1452.5,409.3 1465.0,395.1 1469.2,392.4 1486.3,375.3 1500.5,359.7 1516.1,341.2 1520.4,343.5 1523.2,341.2 1527.5,328.4 1537.5,326.4 1548.8,328.4 1563.0,328.4 1571.6,332.1 1585.8,332.7 1611.4,333.2 1631.3,332.7 1652.6,331.8" fill="none" stroke="#5fb83e" stroke-width="2.5" stroke-linejoin="round" stroke-linecap="butt"/>
<line x1="1111.20" y1="333.50" x2="1571.60" y2="333.50" stroke="#5fb83e" stroke-width="2.8" stroke-dasharray="14.6 13.3"/>
<line x1="1192.40" y1="309.90" x2="1536.60" y2="309.90" stroke="#5fb83e" stroke-width="3.2"/>
<path d="M1185.6,309.9 L1202.9,305.5 L1201.1,309.9 L1202.9,314.3 Z" fill="#5fb83e" stroke="#5fb83e" stroke-width="2.4" stroke-linejoin="round"/>
<path d="M1543.4,309.9 L1526.1,305.5 L1527.9,309.9 L1526.1,314.3 Z" fill="#5fb83e" stroke="#5fb83e" stroke-width="2.4" stroke-linejoin="round"/>
<text transform="translate(1659.20,69.70) scale(1,1.065)" x="0" y="0" font-size="33.6" fill="#231f20" text-anchor="start">1 N</text>
<text transform="translate(1660.00,150.30) scale(1,1.065)" x="0" y="0" font-size="33.6" fill="#ec1b24" text-anchor="start">3 N</text>
<text transform="translate(1660.50,245.60) scale(1,1.065)" x="0" y="0" font-size="33.6" fill="#3249a8" text-anchor="start">6 N</text>
<text transform="translate(1659.00,329.10) scale(1,1.065)" x="0" y="0" font-size="33.8" fill="#5fb83e" text-anchor="start">10 N</text>
<text x="1110.50" y="445.20" font-size="69" fill="#231f20" text-anchor="start">(b)</text>
<text transform="translate(1501.20,455.50) scale(1,1.06)" x="0" y="0" font-size="27" fill="#231f20" text-anchor="start" textLength="89.6" lengthAdjust="spacingAndGlyphs">T = 170</text>
<text x="1597.60" y="440.30" font-size="15" fill="#231f20" text-anchor="start">o</text>
<text transform="translate(1607.30,455.50) scale(1,1.06)" x="0" y="0" font-size="27" fill="#231f20" text-anchor="start">C</text>
<text transform="translate(1370.00,549.00) scale(1,1.045)" x="0" y="0" font-size="33.7" fill="#231f20" text-anchor="middle">Lateral Distance (mm)</text>
<text transform="translate(986,241) rotate(-90) scale(1,1.025)" x="0" y="0" font-size="34.6" fill="#231f20" text-anchor="middle">Depth (nm)</text>
</svg></body></html>
